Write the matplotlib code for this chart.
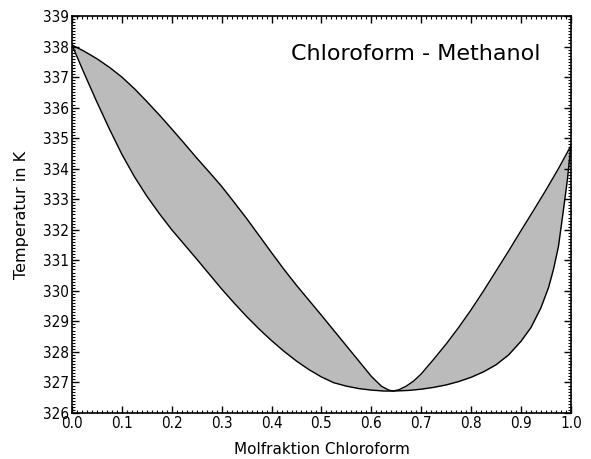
import numpy as np
import matplotlib
matplotlib.use("Agg")
import matplotlib.pyplot as plt
from matplotlib.ticker import MultipleLocator, AutoMinorLocator

plt.rcParams["font.stretch"] = "condensed"

# Siedelinie (liquid) und Taulinie (vapour)
x_liq = [0.0, 0.025, 0.05, 0.075, 0.1, 0.125, 0.15, 0.175, 0.2, 0.225, 0.25,
         0.275, 0.3, 0.325, 0.35, 0.375, 0.4, 0.425, 0.45, 0.475, 0.5, 0.525,
         0.55, 0.575, 0.6, 0.625, 0.644, 0.675, 0.7, 0.725, 0.75, 0.775, 0.8,
         0.825, 0.85, 0.875, 0.9, 0.92, 0.94, 0.955, 0.965, 0.975, 0.985,
         0.993, 1.0]
T_liq = [338.05, 337.1, 336.18, 335.3, 334.47, 333.74, 333.1, 332.53, 332.0,
         331.52, 331.04, 330.55, 330.06, 329.6, 329.16, 328.75, 328.37, 328.02,
         327.7, 327.42, 327.18, 326.99, 326.88, 326.8, 326.75, 326.72, 326.72,
         326.74, 326.78, 326.84, 326.92, 327.03, 327.17, 327.35, 327.58, 327.9,
         328.35, 328.8, 329.45, 330.1, 330.7, 331.45, 332.65, 333.65, 334.75]

x_vap = [0.0, 0.025, 0.05, 0.075, 0.1, 0.125, 0.15, 0.175, 0.2, 0.225, 0.25,
         0.275, 0.3, 0.325, 0.35, 0.375, 0.4, 0.425, 0.45, 0.475, 0.5, 0.525,
         0.55, 0.575, 0.6, 0.62, 0.635, 0.644, 0.655, 0.67, 0.685, 0.7, 0.725,
         0.75, 0.775, 0.8, 0.825, 0.85, 0.875, 0.9, 0.925, 0.95, 0.975, 1.0]
T_vap = [338.05, 337.84, 337.6, 337.32, 337.0, 336.62, 336.2, 335.76, 335.3,
         334.83, 334.35, 333.89, 333.42, 332.9, 332.37, 331.81, 331.25, 330.7,
         330.18, 329.69, 329.2, 328.7, 328.2, 327.7, 327.2, 326.88, 326.75,
         326.72, 326.76, 326.88, 327.05, 327.28, 327.76, 328.26, 328.8, 329.38,
         330.0, 330.65, 331.3, 331.97, 332.63, 333.3, 334.0, 334.75]

fig = plt.figure(figsize=(5.91, 4.59), dpi=100)
ax = fig.add_axes([0.1218, 0.1002, 0.8442, 0.8650])

# fill between the two curves on a common grid
xs = np.union1d(x_liq, x_vap)
ax.fill_between(xs, np.interp(xs, x_liq, T_liq), np.interp(xs, x_vap, T_vap),
                color="#bbbbbb", lw=0)
ax.plot(x_liq, T_liq, color="black", lw=1.0)
ax.plot(x_vap, T_vap, color="black", lw=1.0)

ax.set_xlim(0, 1)
ax.set_ylim(326, 339)
ax.xaxis.set_major_locator(MultipleLocator(0.1))
ax.yaxis.set_major_locator(MultipleLocator(1))
ax.xaxis.set_minor_locator(AutoMinorLocator(10))
ax.yaxis.set_minor_locator(AutoMinorLocator(10))
ax.tick_params(which="both", direction="in", top=True, right=True,
               labelsize=11, pad=2)
ax.tick_params(which="major", length=5, width=1)
ax.tick_params(which="minor", length=2.5, width=0.8)
for s in ax.spines.values():
    s.set_linewidth(1.2)

ax.set_xlabel("Molfraktion Chloroform", fontsize=11, labelpad=8,
              fontstretch="normal")
ax.set_ylabel("Temperatur in K", fontsize=11.5, labelpad=10,
              fontstretch="normal")
ax.text(0.94, 0.905, "Chloroform - Methanol", transform=ax.transAxes,
        ha="right", va="center", fontsize=16, fontstretch="normal")

fig.savefig("out.png", dpi=100, facecolor="white")
